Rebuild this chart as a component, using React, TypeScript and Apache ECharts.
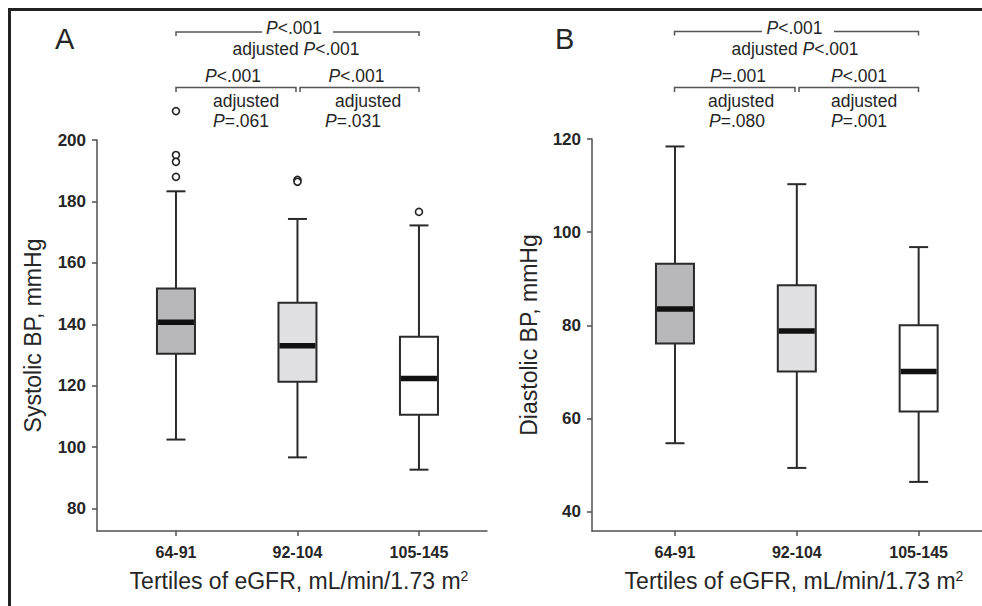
import React, { useEffect, useRef } from 'react';
import * as echarts from 'echarts';

const categories = ['64-91', '92-104', '105-145'];
// [lower whisker, Q1, median, Q3, upper whisker]
const systolicBoxes = [
  [102.5, 130.4, 140.7, 151.7, 183.3],
  [96.7, 121.3, 133.0, 147.0, 174.3],
  [92.7, 110.6, 122.4, 136.0, 172.2],
];
const systolicOutliers = [
  [1, 209.4], [1, 195.1], [1, 192.9], [1, 188.0],
  [2, 187.0], [2, 186.4],
  [3, 176.6],
];
const diastolicBoxes = [
  [54.7, 76.1, 83.5, 93.2, 118.4],
  [49.4, 70.1, 78.8, 88.6, 110.3],
  [46.4, 61.5, 70.1, 80.0, 96.8],
];
const diastolicOutliers: number[][] = [];
const systolicTicks = [80, 100, 120, 140, 160, 180, 200];
const diastolicTicks = [40, 60, 80, 100, 120];
const categoryTicks = [1, 2, 3];

const FONT = '"Liberation Sans", Arial, Helvetica, sans-serif';
const TEXT = '#262626';
const AXIS = '#505050';
const BOX_STROKE = '#2a2a2a';
const boxFills = ['#b8b8bb', '#e1e1e3', '#ffffff'];

const renderBox = (params: any, api: any) => {
  const x = api.value(0);
  const lo = api.coord([x, api.value(1)]);
  const q1 = api.coord([x, api.value(2)]);
  const med = api.coord([x, api.value(3)]);
  const q3 = api.coord([x, api.value(4)]);
  const hi = api.coord([x, api.value(5)]);
  const cx = lo[0];
  const bw = 38;
  const cw = 19;
  const ls = { stroke: BOX_STROKE, lineWidth: 2 };
  return {
    type: 'group',
    children: [
      { type: 'line', shape: { x1: cx, y1: hi[1], x2: cx, y2: q3[1] }, style: ls },
      { type: 'line', shape: { x1: cx, y1: q1[1], x2: cx, y2: lo[1] }, style: ls },
      { type: 'line', shape: { x1: cx - cw / 2, y1: hi[1], x2: cx + cw / 2, y2: hi[1] }, style: ls },
      { type: 'line', shape: { x1: cx - cw / 2, y1: lo[1], x2: cx + cw / 2, y2: lo[1] }, style: ls },
      {
        type: 'rect',
        shape: { x: cx - bw / 2, y: q3[1], width: bw, height: q1[1] - q3[1] },
        style: { fill: boxFills[params.dataIndex % boxFills.length], stroke: BOX_STROKE, lineWidth: 2 },
      },
      {
        type: 'rect',
        shape: { x: cx - bw / 2 + 1, y: med[1] - 2.75, width: bw - 2, height: 5.5 },
        style: { fill: '#111111' },
      },
    ],
  };
};

const PFS = 17.5;
const pRich = {
  i: { fontStyle: 'italic', fontSize: PFS, fontFamily: FONT, fill: TEXT },
  n: { fontSize: PFS, fontFamily: FONT, fill: TEXT },
};

const pText = (text: string, x: number, y: number, align: string = 'center') => ({
  type: 'text',
  x,
  y,
  style: {
    text,
    rich: pRich,
    font: `${PFS}px ${FONT}`,
    fill: TEXT,
    textAlign: align,
    textVerticalAlign: 'middle',
  },
});

const bracketStyle = { stroke: '#555555', lineWidth: 1.5, fill: 'none' };

const bracket = (x1: number, x2: number, y: number) => ({
  type: 'polyline',
  shape: { points: [[x1, y + 4.5], [x1, y], [x2, y], [x2, y + 4.5]] },
  style: bracketStyle,
});

const gappedBracket = (x1: number, g1: number, g2: number, x2: number, y: number) => [
  { type: 'polyline', shape: { points: [[x1, y + 4], [x1, y], [g1, y]] }, style: bracketStyle },
  { type: 'polyline', shape: { points: [[g2, y], [x2, y], [x2, y + 4]] }, style: bracketStyle },
];

const xName = '{a|Tertiles of eGFR, mL/min/1.73 m}{s|2}';

const makeXAxis = (gridIndex: number, min: number, max: number) => ({
  type: 'value',
  gridIndex,
  min,
  max,
  splitLine: { show: false },
  axisLine: { show: true, onZero: false, lineStyle: { color: AXIS, width: 1.5 } },
  axisTick: { show: true, customValues: categoryTicks, length: 5, lineStyle: { color: AXIS, width: 1.5 } },
  axisLabel: {
    customValues: categoryTicks,
    formatter: (v: number) => categories[Math.round(v) - 1] ?? '',
    fontFamily: FONT,
    fontWeight: 'bold',
    fontSize: 16,
    color: TEXT,
    margin: 13,
  },
  name: xName,
  nameLocation: 'middle',
  nameGap: 38,
  nameTextStyle: {
    fontFamily: FONT,
    fontSize: 23,
    color: TEXT,
    padding: [0, 0, 0, 14],
    rich: {
      a: { fontFamily: FONT, fontSize: 23, color: TEXT },
      s: { fontFamily: FONT, fontSize: 14, color: TEXT, verticalAlign: 'top' },
    },
  },
});

const makeYAxis = (gridIndex: number, min: number, max: number, ticks: number[], name: string, gap: number) => ({
  type: 'value',
  gridIndex,
  min,
  max,
  splitLine: { show: false },
  axisLine: { show: true, onZero: false, lineStyle: { color: AXIS, width: 1.5 } },
  axisTick: { show: true, customValues: ticks, length: 5, lineStyle: { color: AXIS, width: 1.5 } },
  axisLabel: {
    customValues: ticks,
    fontFamily: FONT,
    fontWeight: 'bold',
    fontSize: 17,
    color: TEXT,
    margin: 11,
  },
  name,
  nameLocation: 'middle',
  nameGap: gap,
  nameTextStyle: { fontFamily: FONT, fontSize: 23, color: TEXT },
});

const outlierSeries = (axisIndex: number, data: number[][]) => ({
  type: 'scatter',
  xAxisIndex: axisIndex,
  yAxisIndex: axisIndex,
  clip: false,
  symbol: 'circle',
  symbolSize: 7,
  itemStyle: { color: '#ffffff', borderColor: '#222222', borderWidth: 1.6, opacity: 1 },
  data,
});

export default function App() {
  const ref = useRef<HTMLDivElement>(null);

  useEffect(() => {
    if (!ref.current) return;
    const chart = echarts.init(ref.current, undefined, { renderer: 'svg' });

    const sysData = systolicBoxes.map((b, i) => [categoryTicks[i], ...b]);
    const diaData = diastolicBoxes.map((b, i) => [categoryTicks[i], ...b]);

    const option: any = {
      animation: false,
      backgroundColor: '#ffffff',
      grid: [
        { left: 97, top: 140, width: 390, height: 391 },
        { left: 592, top: 139, width: 390, height: 392 },
      ],
      xAxis: [makeXAxis(0, 0.35, 3.56), makeXAxis(1, 0.319, 3.52)],
      yAxis: [
        makeYAxis(0, 72.74, 200, systolicTicks, 'Systolic BP, mmHg', 53),
        makeYAxis(1, 35.86, 120, diastolicTicks, 'Diastolic BP, mmHg', 52),
      ],
      series: [
        {
          type: 'custom',
          name: 'Systolic',
          xAxisIndex: 0,
          yAxisIndex: 0,
          renderItem: renderBox,
          encode: { x: 0, y: [1, 2, 3, 4, 5] },
          data: sysData,
        },
        outlierSeries(0, systolicOutliers),
        {
          type: 'custom',
          name: 'Diastolic',
          xAxisIndex: 1,
          yAxisIndex: 1,
          renderItem: renderBox,
          encode: { x: 0, y: [1, 2, 3, 4, 5] },
          data: diaData,
        },
        outlierSeries(1, diastolicOutliers),
      ],
      graphic: [
        // frame
        { type: 'line', shape: { x1: 9.5, y1: 8, x2: 9.5, y2: 606 }, style: { stroke: '#222222', lineWidth: 3 } },
        { type: 'line', shape: { x1: 8, y1: 9.5, x2: 982, y2: 9.5 }, style: { stroke: '#222222', lineWidth: 3 } },
        // panel letters
        { type: 'text', x: 55, y: 38.5, style: { text: 'A', font: `29px ${FONT}`, fill: TEXT, textVerticalAlign: 'middle' } },
        { type: 'text', x: 555, y: 38.5, style: { text: 'B', font: `29px ${FONT}`, fill: TEXT, textVerticalAlign: 'middle' } },
        // panel A annotations
        ...gappedBracket(176, 262, 333, 419, 32),
        pText('{i|P}{n|<.001}', 294, 27.5),
        pText('{n|adjusted }{i|P}{n|<.001}', 296, 49),
        bracket(176, 296, 87.5),
        bracket(300, 419, 87.5),
        pText('{i|P}{n|<.001}', 233, 75.5),
        pText('{i|P}{n|<.001}', 356.5, 75.5),
        pText('{n|adjusted}', 213, 100.5, 'left'),
        pText('{i|P}{n|=.061}', 213, 120.5, 'left'),
        pText('{n|adjusted}', 335, 100.5, 'left'),
        pText('{i|P}{n|=.031}', 325, 120.5, 'left'),
        // panel B annotations
        ...gappedBracket(674.5, 762, 834, 918.5, 31.5),
        pText('{i|P}{n|<.001}', 794.5, 27.5),
        pText('{n|adjusted }{i|P}{n|<.001}', 795, 49),
        bracket(674.5, 795, 87.5),
        bracket(799, 918.5, 87.5),
        pText('{i|P}{n|=.001}', 738, 75.5),
        pText('{i|P}{n|<.001}', 859, 75.5),
        pText('{n|adjusted}', 708, 100.5, 'left'),
        pText('{i|P}{n|=.080}', 709, 120.5, 'left'),
        pText('{n|adjusted}', 831, 100.5, 'left'),
        pText('{i|P}{n|=.001}', 831, 120.5, 'left'),
      ],
    };

    chart.setOption(option);
    return () => chart.dispose();
  }, []);

  return (
    <div
      ref={ref}
      style={{ position: 'fixed', left: 0, top: 0, width: 982, height: 606, background: '#fff' }}
    />
  );
}
